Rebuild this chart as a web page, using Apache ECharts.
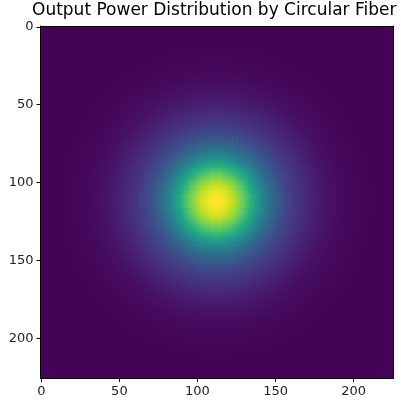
<!DOCTYPE html>
<html>
<head>
<meta charset="utf-8">
<script src="https://cdn.jsdelivr.net/npm/echarts@6/dist/echarts.min.js"></script>
<style>
  html, body { margin: 0; padding: 0; background: #fff; }
  #chart { width: 401px; height: 406px; }
</style>
</head>
<body>
<div id="chart"></div>
<script>
// image size (pixels per side) and beam centre
const gridSize = 226
const beamCenter = 112

// radial power profile, one value per pixel of radius (normalised to 1)
const radialProfile = [
  1.000, 0.999, 0.996, 0.992, 0.986, 0.978, 0.968, 0.957, 0.944, 0.929,
  0.913, 0.896, 0.878, 0.858, 0.837, 0.816, 0.793, 0.770, 0.746, 0.721,
  0.696, 0.671, 0.645, 0.619, 0.594, 0.568, 0.542, 0.517, 0.492, 0.468,
  0.445, 0.423, 0.403, 0.383, 0.365, 0.347, 0.330, 0.314, 0.299, 0.284,
  0.270, 0.257, 0.245, 0.233, 0.222, 0.212, 0.202, 0.193, 0.184, 0.175,
  0.167, 0.159, 0.152, 0.145, 0.138, 0.131, 0.125, 0.119, 0.114, 0.107,
  0.101, 0.095, 0.090, 0.085, 0.080, 0.075, 0.071, 0.067, 0.063, 0.059,
  0.056, 0.052, 0.049, 0.047, 0.044, 0.041, 0.039, 0.037, 0.035, 0.033,
  0.031, 0.029, 0.027, 0.026, 0.024, 0.023, 0.021, 0.020, 0.0185, 0.017,
  0.0157, 0.0145, 0.0134, 0.0124, 0.0114, 0.0105, 0.0097, 0.009, 0.0083, 0.0076,
  0.007
]

const tickValues = [0, 50, 100, 150, 200]

// viridis
const viridis = ['#440154', '#482475', '#414487', '#355f8d', '#2a788e', '#21918c',
  '#22a884', '#44bf70', '#7ad151', '#bddf26', '#fde725']

// build the cell table from the profile
let cells = []
for (let y = 0; y < gridSize; y++) {
  for (let x = 0; x < gridSize; x++) {
    let r = Math.round(Math.hypot(x - beamCenter, y - beamCenter))
    let v = r < radialProfile.length ? radialProfile[r] : radialProfile[radialProfile.length - 1]
    cells.push([x, y, v])
  }
}

const axisCommon = {
  type: 'value',
  min: -0.5,
  max: gridSize - 0.5,
  z: 10,
  splitLine: { show: false },
  axisLine: { show: true, onZero: false, lineStyle: { color: '#000', width: 1 } },
  axisTick: { show: true, length: 4, customValues: tickValues, lineStyle: { color: '#000', width: 1 } },
  axisLabel: { customValues: tickValues, margin: 7, color: '#222', fontSize: 13, fontFamily: 'DejaVu Sans' }
}
const axisFrame = {
  type: 'value',
  min: -0.5,
  max: gridSize - 0.5,
  z: 10,
  splitLine: { show: false },
  axisLine: { show: true, onZero: false, lineStyle: { color: '#000', width: 1 } },
  axisTick: { show: false },
  axisLabel: { show: false }
}

let myChart = echarts.init(document.getElementById('chart'), null, { renderer: 'canvas' })
let option = {
  animation: false,
  title: {
    text: 'Output Power Distribution by Circular Fiber',
    left: 32,
    top: 2,
    padding: 0,
    textStyle: { color: '#000', fontSize: 17, fontWeight: 'normal', fontFamily: 'DejaVu Sans' }
  },
  grid: { left: 40.5, top: 26, width: 353, height: 352, containLabel: false },
  xAxis: [
    Object.assign({}, axisCommon, { position: 'bottom' }),
    Object.assign({}, axisFrame, { position: 'top' })
  ],
  yAxis: [
    Object.assign({}, axisCommon, { position: 'left', inverse: true }),
    Object.assign({}, axisFrame, { position: 'right', inverse: true })
  ],
  visualMap: {
    show: false,
    type: 'continuous',
    min: 0,
    max: 1,
    dimension: 2,
    inRange: { color: viridis }
  },
  series: [{
    type: 'custom',
    clip: true,
    progressive: 0,
    data: cells,
    renderItem: function (params, api) {
      // snap cell edges to whole pixels so neighbours meet without seams
      let a = api.coord([api.value(0) - 0.5, api.value(1) - 0.5])
      let b = api.coord([api.value(0) + 0.5, api.value(1) + 0.5])
      let x0 = Math.round(Math.min(a[0], b[0])), x1 = Math.round(Math.max(a[0], b[0]))
      let y0 = Math.round(Math.min(a[1], b[1])), y1 = Math.round(Math.max(a[1], b[1]))
      return {
        type: 'rect',
        shape: { x: x0, y: y0, width: x1 - x0, height: y1 - y0 },
        style: { fill: api.visual('color') }
      }
    }
  }]
}
myChart.setOption(option)
</script>
</body>
</html>
